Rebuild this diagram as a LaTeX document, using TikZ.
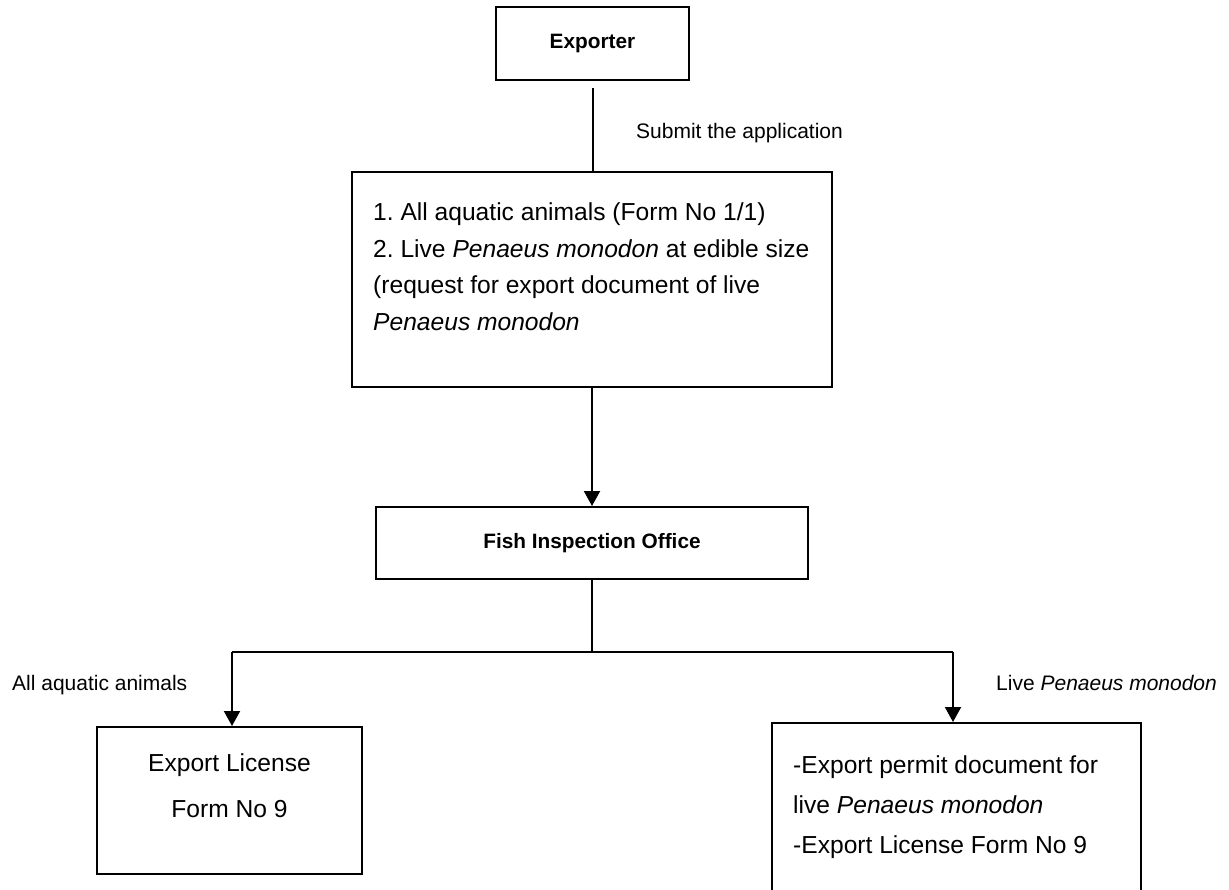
\documentclass[tikz,border=0pt]{standalone}
\usepackage{fontspec}
\setmainfont{Liberation Sans}
\usetikzlibrary{arrows.meta}
\frenchspacing
\begin{document}
\begin{tikzpicture}[x=1pt,y=-1pt,
  box/.style={draw, line width=2pt, inner sep=0pt},
  conn/.style={line width=2pt},
  arr/.style={line width=2pt, -{Triangle[length=15pt,width=16pt]}},
  boldtxt/.style={font=\fontsize{20.8}{25}\selectfont\bfseries},
  lab/.style={font=\fontsize{21}{25}\selectfont, inner sep=0pt, anchor=base west},
  txt/.style={font=\fontsize{24.6}{30}\selectfont, inner sep=0pt, anchor=base west},
  ctxt/.style={font=\fontsize{24.6}{30}\selectfont, inner sep=0pt, anchor=base}]
\useasboundingbox (0,0) rectangle (1229,889);
\clip (0,0) rectangle (1229,889);
\fill[white] (0,0) rectangle (1229,889);

% boxes
\node[box, boldtxt, minimum width=193pt, minimum height=73pt] (exp) at (592.5,43.5) {Exporter};
\node[box, minimum width=480pt, minimum height=215pt] (big) at (592,279.5) {};
\node[box, boldtxt, minimum width=432pt, minimum height=72pt] (fish) at (592,543) {Fish Inspection Office};
\node[box, minimum width=265pt, minimum height=147pt] (lbox) at (229.5,800.5) {};
\node[box, minimum width=369pt, minimum height=250pt] (rbox) at (956.5,848) {};

% texts in the big box
\node[txt] (b1) at (373,220) {1. All aquatic animals (Form No 1/1)};
\node[txt] (b2) at (373,257) {2. Live \textit{Penaeus monodon} at edible size};
\node[txt] (b3) at (373,293.5) {(request for export document of live};
\node[txt] (b4) at (373,330) {\textit{Penaeus monodon}};

% texts in the left box
\node[ctxt] (l1) at (229.5,771) {Export License};
\node[ctxt] (l2) at (229.5,817) {Form No 9};

% texts in the right box
\node[txt] (r1) at (793,773) {-Export permit document for};
\node[txt] (r2) at (793,813) {live \textit{Penaeus monodon}};
\node[txt] (r3) at (793,853) {-Export License Form No 9};

% labels
\node[lab] (sub) at (636,138) {Submit the application};
\node[lab] (lall) at (12,690) {All aquatic animals};
\node[lab] (llive) at (996,690) {Live \textit{Penaeus monodon}};

% connectors
\coordinate (split) at (592,652);
\coordinate (jL) at (232,652);
\coordinate (jR) at (953,652);
\draw[conn, shorten <=7pt] (exp.south) -- (exp.south |- big.north);
\draw[arr] (big.south) -- (fish.north);
\draw[conn] (fish.south) -- (split);
\draw[conn] (jL) -- (jR);
\draw[arr] (jL) -- (jL |- lbox.north);
\draw[arr] (jR) -- (jR |- rbox.north);
\end{tikzpicture}
\end{document}
